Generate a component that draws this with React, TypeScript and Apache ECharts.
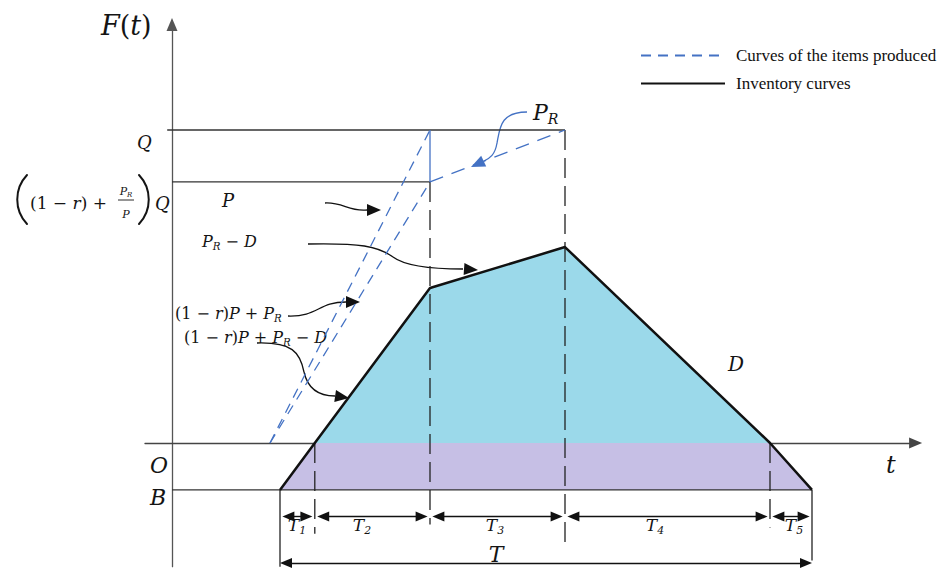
import React, { useEffect, useRef } from 'react';
import * as echarts from 'echarts';

// Phase boundaries on the time axis: start of the cycle (backorder B), then the ends of T1..T5
const phaseTimes = [2.7, 3.57, 6.45, 9.825, 14.95, 16];
// Inventory level at each boundary
const inventoryLevels = [-15, 0, 49.5, 62.6, 0, -15];
// Production curves
const productionStart = 2.45;
const lotSize = 100; // Q
const goodPlusReworkLevel = 83.4; // ((1 - r) + P_R / P) Q
const backorderLevel = -15; // B
const phaseSubscripts = ['1', '2', '3', '4', '5'];

const LEGEND_PRODUCED = 'Curves of the items produced';
const LEGEND_INVENTORY = 'Inventory curves';

// layout of the plotting area
const X0 = 172;
const Y0 = 443;
const KX = 40;
const KY = 3.13;
const xMin = -0.675;
const xMax = 18.59;
const yMin = -39.5;
const yMax = 133.7;

const MATH_FONT = '"DejaVu Serif", serif';
const TEXT_COLOR = '#141414';
const BLUE = '#4472C4';

type Seg = [string, number]; // 0 upright, 1 italic, 2 italic subscript

let measureCtx: CanvasRenderingContext2D | null = null;
function measure(text: string, size: number, italic: boolean, family: string) {
  if (!measureCtx) measureCtx = document.createElement('canvas').getContext('2d');
  measureCtx!.font = `${italic ? 'italic ' : ''}${size}px ${family}`;
  return measureCtx!.measureText(text).width;
}

function mathText(x: number, y: number, segs: Seg[], size: number, align: 'left' | 'center' = 'left') {
  const parts = segs.map(([text, kind]) => {
    const fs = kind === 2 ? size * 0.64 : size;
    const italic = kind !== 0;
    return { text, fs, italic, dy: kind === 2 ? size * 0.32 : 0, w: measure(text, fs, italic, MATH_FONT) };
  });
  const total = parts.reduce((s, p) => s + p.w, 0);
  let cx = align === 'center' ? x - total / 2 : x;
  const out: any[] = [];
  for (const p of parts) {
    out.push({
      type: 'text',
      x: cx,
      y: y + p.dy,
      silent: true,
      style: {
        text: p.text,
        fontSize: p.fs,
        fontFamily: MATH_FONT,
        fontStyle: p.italic ? 'italic' : 'normal',
        fill: TEXT_COLOR,
        align: 'left',
        verticalAlign: 'middle',
      },
    });
    cx += p.w;
  }
  return out;
}

function curvedArrow(segs: number[][], tip: number[], color: string) {
  const out: any[] = segs.map((s) => ({
    type: 'bezierCurve',
    silent: true,
    shape: { x1: s[0], y1: s[1], cpx1: s[2], cpy1: s[3], cpx2: s[4], cpy2: s[5], x2: s[6], y2: s[7] },
    style: { stroke: color, lineWidth: 1.3, fill: 'none' },
  }));
  const last = segs[segs.length - 1];
  const fx = last[6];
  const fy = last[7];
  const dx = tip[0] - fx;
  const dy = tip[1] - fy;
  const len = Math.hypot(dx, dy) || 1;
  const ux = dx / len;
  const uy = dy / len;
  const L = 14;
  const H = 6;
  const bx = tip[0] - ux * L;
  const by = tip[1] - uy * L;
  out.push({
    type: 'polygon',
    silent: true,
    shape: { points: [[tip[0], tip[1]], [bx - uy * H, by + ux * H], [bx + uy * H, by - ux * H]] },
    style: { fill: color },
  });
  return out;
}

// tall delimiter drawn as a curved stroke; dir = 1 opens right "(", -1 opens left ")"
function bigParen(x: number, top: number, bottom: number, dir: number) {
  const bulge = 13 * dir;
  const h = bottom - top;
  return {
    type: 'bezierCurve',
    silent: true,
    shape: {
      x1: x, y1: top,
      cpx1: x - bulge, cpy1: top + h * 0.28,
      cpx2: x - bulge, cpy2: top + h * 0.72,
      x2: x, y2: bottom,
    },
    style: { stroke: TEXT_COLOR, lineWidth: 2, fill: 'none', lineCap: 'round' },
  };
}

function lineSeries(name: string, data: number[][], color: string, width: number, type: any, z: number) {
  return {
    type: 'line',
    name,
    data,
    symbol: 'none',
    silent: true,
    clip: false,
    z,
    lineStyle: { color, width, type },
  };
}

function buildOption() {
  const inv = phaseTimes.map((t, i) => [t, inventoryLevels[i]]);
  const tEndProd = phaseTimes[2];
  const tEndRework = phaseTimes[3];

  const series: any[] = [
    // production curves
    lineSeries(LEGEND_PRODUCED, [[productionStart, 0], [tEndProd, lotSize]], BLUE, 1.3, [10, 7], 4),
    lineSeries(LEGEND_PRODUCED, [[productionStart, 0], [tEndProd, goodPlusReworkLevel]], BLUE, 1.3, [10, 7], 4),
    lineSeries(LEGEND_PRODUCED, [[tEndProd, goodPlusReworkLevel], [tEndRework, lotSize]], BLUE, 1.3, [14, 9], 4),
    lineSeries('production stop', [[tEndProd, lotSize], [tEndProd, goodPlusReworkLevel]], BLUE, 1.3, 'solid', 4),
    // inventory
    lineSeries(LEGEND_INVENTORY, inv, '#111', 2.5, 'solid', 6),
    // shaded areas
    {
      type: 'line',
      name: 'backorder area',
      data: [inv[0], inv[1], inv[4], inv[5]],
      symbol: 'none',
      silent: true,
      z: 1,
      lineStyle: { width: 0 },
      areaStyle: { color: '#C6BFE5', opacity: 1, origin: backorderLevel },
    },
    {
      type: 'line',
      name: 'stock area',
      data: inv.slice(1, 5),
      symbol: 'none',
      silent: true,
      z: 1,
      lineStyle: { width: 0 },
      areaStyle: { color: '#9BD9EA', opacity: 1, origin: 0 },
    },
    // reference levels
    lineSeries('Q level', [[-0.12, lotSize], [tEndRework, lotSize]], '#333', 1.3, 'solid', 3),
    lineSeries('good level', [[0, goodPlusReworkLevel], [tEndProd, goodPlusReworkLevel]], '#333', 1.3, 'solid', 3),
    lineSeries('B level', [[0, backorderLevel], [phaseTimes[5], backorderLevel]], '#333', 1.2, 'solid', 3),
    // phase boundaries
    lineSeries('b1', [[phaseTimes[1], 0], [phaseTimes[1], -29]], '#222', 1.3, [20, 8], 3),
    lineSeries('b2', [[tEndProd, goodPlusReworkLevel], [tEndProd, -26]], '#222', 1.3, [20, 8], 3),
    lineSeries('b3', [[tEndRework, lotSize], [tEndRework, -33.5]], '#222', 1.3, [20, 8], 3),
    lineSeries('b4', [[phaseTimes[4], 0], [phaseTimes[4], -27]], '#222', 1.3, [20, 8], 3),
    lineSeries('b0', [[phaseTimes[0], backorderLevel], [phaseTimes[0], yMin]], '#222', 1.3, 'solid', 3),
    lineSeries('b5', [[phaseTimes[5], backorderLevel], [phaseTimes[5], -37.5]], '#222', 1.3, 'solid', 3),
  ];

  // dimension arrows for T1..T5 and the whole cycle T
  const inset = 6 / KX + 0.06;
  const dimY = -23.5;
  const dims: any[] = [];
  for (let i = 0; i < 5; i++) {
    dims.push([
      { coord: [phaseTimes[i] + inset, dimY] },
      { coord: [phaseTimes[i + 1] - inset, dimY] },
    ]);
  }
  dims.push([
    { coord: [phaseTimes[0] + 6 / KX, -38.3] },
    { coord: [phaseTimes[5] - 6 / KX, -38.3] },
  ]);
  series.push({
    type: 'line',
    name: 'dimensions',
    data: [],
    silent: true,
    z: 5,
    markLine: {
      silent: true,
      animation: false,
      symbol: ['triangle', 'triangle'],
      symbolSize: [10, 12],
      label: { show: false },
      lineStyle: { color: '#111', width: 1.4, type: 'solid' },
      emphasis: { disabled: true },
      data: dims,
    },
  });

  // texts and annotation arrows
  const g: any[] = [];
  g.push(...mathText(101, 25, [['F', 1], ['(', 0], ['t', 1], [')', 0]], 27));
  g.push(...mathText(137, 142, [['Q', 1]], 18));
  // ((1 - r) + P_R / P) Q
  g.push(bigParen(27, 175, 224, 1));
  g.push(...mathText(30, 203, [['(1 − ', 0], ['r', 1], [') +', 0]], 17));
  g.push(...mathText(126, 191, [['P', 1], ['R', 2]], 11, 'center'));
  g.push({ type: 'line', silent: true, shape: { x1: 118, y1: 200, x2: 134, y2: 200 }, style: { stroke: TEXT_COLOR, lineWidth: 0.9 } });
  g.push(...mathText(126, 214, [['P', 1]], 11, 'center'));
  g.push(bigParen(139, 175, 224, -1));
  g.push(...mathText(155, 203, [['Q', 1]], 18));

  g.push(...mathText(222, 200, [['P', 1]], 18));
  g.push(...mathText(202, 241, [['P', 1], ['R', 2], [' − ', 0], ['D', 1]], 16));
  g.push(...mathText(175, 313, [['(1 − ', 0], ['r', 1], [')', 0], ['P', 1], [' + ', 0], ['P', 1], ['R', 2]], 16));
  g.push(...mathText(184, 337, [['(1 − ', 0], ['r', 1], [')', 0], ['P', 1], [' + ', 0], ['P', 1], ['R', 2], [' − ', 0], ['D', 1]], 16));
  g.push(...mathText(533, 112, [['P', 1], ['R', 2]], 22));
  g.push(...mathText(728, 364, [['D', 1]], 20));
  g.push(...mathText(150, 465, [['O', 1]], 22));
  g.push(...mathText(150, 497, [['B', 1]], 22));
  g.push(...mathText(886, 465, [['t', 1]], 24));
  const tCenters = [297, 362, 495, 655, 794];
  phaseSubscripts.forEach((s, i) => {
    g.push(...mathText(tCenters[i], 525, [['T', 1], [s, 2]], 17, 'center'));
  });
  g.push(...mathText(496, 554, [['T', 1]], 22, 'center'));

  g.push(...curvedArrow([[325, 203, 343, 202, 349, 212, 367, 210]], [381, 210], '#111'));
  g.push(...curvedArrow([[308, 244, 360, 243, 378, 246, 393, 257], [393, 257, 405, 266, 435, 269, 463, 269]], [478, 270], '#111'));
  g.push(...curvedArrow([[288, 316, 318, 317, 318, 302, 346, 302]], [360, 302], '#111'));
  g.push(...curvedArrow([[257, 343, 292, 342, 300, 352, 304, 372], [304, 372, 308, 390, 320, 396, 335, 396]], [349, 398], '#111'));
  g.push(...curvedArrow([[527, 112, 500, 112, 500, 128, 497, 143], [497, 143, 495, 155, 490, 158, 484, 161]], [471, 167], BLUE));

  return {
    animation: false,
    backgroundColor: '#fff',
    grid: {
      left: X0 + xMin * KX,
      top: Y0 - yMax * KY,
      width: (xMax - xMin) * KX,
      height: (yMax - yMin) * KY,
    },
    xAxis: {
      type: 'value',
      min: xMin,
      max: xMax,
      axisLine: {
        show: true,
        onZero: true,
        symbol: ['none', 'triangle'],
        symbolSize: [11, 13],
        lineStyle: { color: '#444', width: 1.3 },
      },
      axisTick: { show: false },
      axisLabel: { show: false },
      splitLine: { show: false },
    },
    yAxis: {
      type: 'value',
      min: yMin,
      max: yMax,
      axisLine: {
        show: true,
        onZero: true,
        symbol: ['none', 'triangle'],
        symbolSize: [11, 13],
        lineStyle: { color: '#555', width: 1.3 },
      },
      axisTick: { show: false },
      axisLabel: { show: false },
      splitLine: { show: false },
    },
    legend: {
      data: [LEGEND_PRODUCED, LEGEND_INVENTORY],
      orient: 'vertical',
      left: 640,
      top: 47,
      padding: 0,
      itemWidth: 84,
      itemHeight: 14,
      itemGap: 11,
      selectedMode: false,
      itemStyle: { opacity: 0 },
      textStyle: {
        fontFamily: '"Liberation Serif", serif',
        fontSize: 17,
        color: '#111',
        padding: [0, 0, 0, 6],
      },
    },
    series,
    graphic: { elements: g },
  };
}

export default function App() {
  const ref = useRef<HTMLDivElement>(null);
  useEffect(() => {
    const chart = echarts.init(ref.current!, null, { renderer: 'svg' });
    chart.setOption(buildOption() as any);
    return () => chart.dispose();
  }, []);
  return <div ref={ref} style={{ position: 'absolute', left: 0, top: 0, width: 946, height: 572 }} />;
}
